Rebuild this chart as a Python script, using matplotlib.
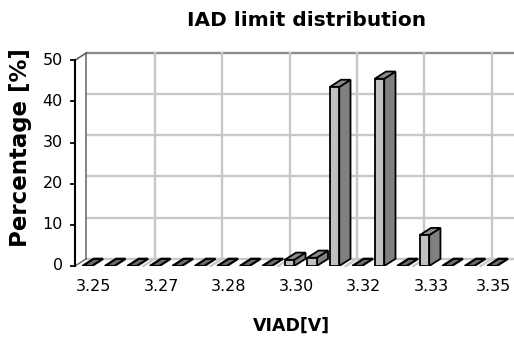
import matplotlib
matplotlib.use("Agg")
import matplotlib.pyplot as plt
from matplotlib.patches import Polygon

plt.rcParams['font.family'] = ['DejaVu Sans']

# ---- data ----
categories = ["3.250", "3.256", "3.261", "3.267", "3.272", "3.278", "3.283", "3.289",
              "3.294", "3.300", "3.306", "3.311", "3.317", "3.322", "3.328", "3.333",
              "3.339", "3.344", "3.350"]
values = [0, 0, 0, 0, 0, 0, 0, 0, 0, 1.5, 2.0, 43.5, 0, 45.5, 0, 7.5, 0, 0, 0]
tick_idx = [0, 3, 6, 9, 12, 15, 18]
tick_labels = ["3.25", "3.27", "3.28", "3.30", "3.32", "3.33", "3.35"]
y_ticks = [0, 10, 20, 30, 40, 50]

title = "IAD limit distribution"
xlabel = "VIAD[V]"
ylabel = "Percentage [%]"

# ---- figure ----
W, H = 514, 341
fig = plt.figure(figsize=(W / 100, H / 100), dpi=100)

def fx(px):
    return px / W

def fy(py):
    return 1 - py / H

ax_left, ax_right, ax_bottom, ax_top = 75, 514, 266, 53
ax = fig.add_axes([fx(ax_left), fy(ax_bottom), fx(ax_right - ax_left), (ax_bottom - ax_top) / H])
xmin, xmax = -0.54, 18.98
dx, dy = 0.5, 1.75
ymax = 50
ax.set_xlim(xmin, xmax)
ax.set_ylim(0, ymax + dy)
ax.axis('off')

grid_c = '#c8c8c8'
# back wall horizontal gridlines
for v in y_ticks:
    ax.plot([xmin + dx, xmax], [v + dy, v + dy], color=grid_c if v < ymax else '#8c8c8c',
            lw=1.7, zorder=1, clip_on=False, solid_capstyle='butt')
# back wall vertical gridlines and floor lines
for i in tick_idx[1:]:
    b = i - 0.5
    ax.plot([b + dx, b + dx], [dy, ymax + dy], color=grid_c, lw=1.7, zorder=1, clip_on=False)
    ax.plot([b, b + dx], [0, dy], color=grid_c, lw=1.7, zorder=1, clip_on=False)
# left wall edges
ax.plot([xmin + dx, xmin + dx], [dy, ymax + dy], color='#707070', lw=1.2, zorder=2, clip_on=False)
ax.plot([xmin, xmin + dx], [ymax, ymax + dy], color='#606060', lw=1.2, zorder=2, clip_on=False)
ax.plot([xmin, xmin + dx], [0, dy], color='#606060', lw=1.0, zorder=2, clip_on=False)
# front y axis
ax.plot([xmin, xmin], [0, ymax], color='black', lw=1.5, zorder=5, clip_on=False)
tick_len = 4 / 22.5
for v in y_ticks:
    ax.plot([xmin - tick_len, xmin], [v, v], color='black', lw=1.3, zorder=5, clip_on=False)
    ax.text(xmin - 0.55, v, str(v), ha='right', va='center', fontsize=11.5, clip_on=False)

# bars
w = 0.42
front_c, side_c, top_c = '#c0c0c0', '#808080', '#8c8c8c'
for i, v in enumerate(values):
    l, r = i - w / 2, i + w / 2
    if v > 0:
        ax.add_patch(Polygon([(r, 0), (r + dx, dy), (r + dx, v + dy), (r, v)], closed=True,
                             facecolor=side_c, edgecolor='black', lw=1.3, zorder=3 + i * 0.01))
        ax.add_patch(Polygon([(l, v), (r, v), (r + dx, v + dy), (l + dx, v + dy)], closed=True,
                             facecolor=top_c, edgecolor='black', lw=1.3, zorder=3 + i * 0.01))
        ax.add_patch(Polygon([(l, 0), (r, 0), (r, v), (l, v)], closed=True,
                             facecolor=front_c, edgecolor='black', lw=1.3, zorder=3.005 + i * 0.01))
    else:
        ax.add_patch(Polygon([(l, 0), (r, 0), (r + dx, dy), (l + dx, dy)], closed=True,
                             facecolor='#6e6e6e', edgecolor='black', lw=1.6, zorder=3 + i * 0.01))

# x tick labels
for i, lab in zip(tick_idx, tick_labels):
    ax.text(min(i + 0.3, 18.05), -4.9, lab, ha='center', va='center', fontsize=11.5, clip_on=False)

fig.text(fx(307), fy(20), title, ha='center', va='center', fontsize=14.5, fontweight='bold')
fig.text(fx(291), fy(326), xlabel, ha='center', va='center', fontsize=12.5, fontweight='bold')
fig.text(fx(21), fy(148), ylabel, ha='center', va='center', rotation=90, fontsize=16.5, fontweight='bold')

fig.savefig("out.png", dpi=100)
